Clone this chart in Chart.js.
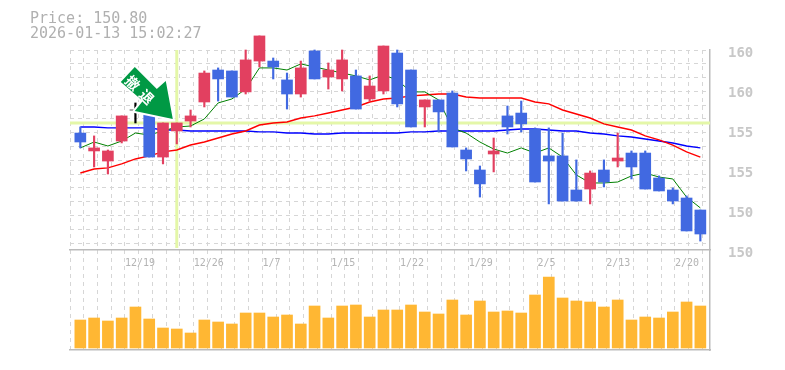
<!DOCTYPE html>
<html>
<head>
<meta charset="utf-8">
<title>Price chart</title>
<script src="https://cdn.jsdelivr.net/npm/chart.js@4"></script>
<style>
  body { margin: 0; background: #fff; }
  #wrap { position: relative; width: 785px; height: 370px; overflow: hidden; }
  #head { position: absolute; left: 30px; top: 11px; font: 15px/15px "DejaVu Sans Mono", monospace; color: #b0b0b0; white-space: pre; }
  canvas { position: absolute; left: 0; top: 0; }
</style>
</head>
<body>
<div id="wrap">
  <canvas id="chart" width="785" height="370"></canvas>
  <div id="head">Price: 150.80
2026-01-13 15:02:27</div>
</div>
<script>
// ----- data -----
const opens = [157.11,155.99,155.36,156.61,158.55,159.18,155.61,157.24,157.86,159.05,161.05,160.99,159.68,161.61,161.61,160.43,159.55,162.24,160.61,160.49,160.68,159.24,159.74,162.11,161.05,158.74,159.18,159.61,156.05,154.80,155.80,158.18,158.36,157.36,155.68,155.68,153.55,153.61,154.80,155.36,155.86,155.86,154.30,153.55,153.05,152.30];
const closes = [156.55,156.18,155.99,158.18,158.55,155.61,157.74,157.74,158.18,160.86,160.49,159.36,161.68,163.18,161.24,159.55,161.18,160.49,161.05,161.68,158.61,160.05,162.55,158.93,157.49,159.18,158.43,156.24,155.49,153.93,155.99,157.49,157.68,154.05,155.36,152.86,152.86,154.61,154.05,155.55,154.99,153.61,153.49,152.86,150.99,150.80];
const highs = [157.49,156.93,156.05,158.18,158.99,159.18,157.74,157.74,158.55,160.99,161.18,160.99,162.30,163.18,161.80,160.86,161.61,162.30,161.49,162.30,161.05,160.68,162.55,162.30,161.05,159.18,159.18,159.74,156.18,155.05,156.80,158.80,159.11,157.43,157.43,157.11,155.43,154.74,155.43,157.11,155.99,155.99,154.43,153.68,153.18,152.30];
const lows = [156.18,154.99,154.55,156.49,157.74,155.61,155.18,156.43,157.49,158.74,159.11,159.36,159.55,161.24,160.49,158.61,159.36,160.49,159.86,159.74,158.61,159.11,159.55,158.74,157.49,157.49,157.18,156.24,154.74,153.11,154.68,157.05,157.18,154.05,152.68,152.86,152.86,152.68,153.74,154.99,154.24,153.61,153.49,152.68,150.99,150.36];
const volumes = [28,30,27,30,41,29,20,19,15,28,26,24,35,35,31,33,24,42,30,42,43,31,38,38,43,36,34,48,33,47,36,37,35,53,71,50,47,46,41,48,28,31,30,36,46,42];
const maShort = [156.18,156.55,156.30,156.61,157.11,156.99,157.24,157.49,157.55,157.99,158.99,159.24,159.86,161.18,161.18,161.05,161.43,161.24,161.05,160.86,160.68,160.43,160.74,160.43,159.68,159.68,159.18,157.43,157.11,156.55,156.11,155.86,156.18,155.86,156.18,155.61,154.49,153.99,153.99,154.05,154.43,154.61,154.36,154.24,153.11,152.43];
const maMid = [154.61,154.86,154.93,155.18,155.49,155.68,155.93,156.05,156.36,156.55,156.80,157.05,157.24,157.61,157.74,157.80,158.05,158.18,158.36,158.55,158.74,159.05,159.24,159.30,159.43,159.49,159.55,159.55,159.36,159.30,159.30,159.30,159.30,159.05,158.93,158.55,158.30,158.05,157.68,157.49,157.30,156.93,156.68,156.36,155.93,155.61];
const maLong = [157.49,157.49,157.43,157.43,157.43,157.43,157.30,157.30,157.24,157.24,157.24,157.24,157.24,157.18,157.18,157.11,157.11,157.05,157.05,157.11,157.11,157.11,157.11,157.11,157.18,157.18,157.24,157.24,157.24,157.24,157.24,157.30,157.36,157.36,157.30,157.24,157.24,157.11,157.05,156.93,156.86,156.74,156.61,156.49,156.30,156.18];
const dateLabels = ['12/19','12/26','1/7','1/15','1/22','1/29','2/5','2/13','2/20'];
const dateSlots = [4,9,14,19,24,29,34,39,44];
const priceTicks = [162.3,159.8,157.3,154.8,152.3,149.8];
const priceLabels = ['160','160','155','155','150','150'];
const crossIndex = 7;
const crossPrice = 157.74;
const signalText = ['撤','退'];

// ----- colours -----
const RED = '#E24060';
const BLUE = '#4169E1';
const ORANGE = '#FFB733';
const CROSS = '#E4F7A8';
const GRID = '#d6d6d6';
const FRAME = '#bbbbbb';
const candleColor = (o, c) => c === o ? '#000000' : (c > o ? RED : BLUE);

const xy = arr => arr.map((v, i) => ({ x: i, y: v }));
const lineSet = (data, color, width, order) => ({
    type: 'line', data: xy(data), borderColor: color, borderWidth: width,
    pointRadius: 0, tension: 0, fill: false, clip: false, order, yAxisID: 'y', xAxisID: 'x'
});

// the green sell arrow, hung from the crosshair point
const arrowPlugin = {
    id: 'arrow',
    afterDatasetsDraw(chart) {
        const ctx = chart.ctx;
        const tipX = chart.scales.x.getPixelForValue(crossIndex) - 4;
        const tipY = chart.scales.y.getPixelForValue(crossPrice) - 4;
        const pts = [[0,0],[-38,-8],[-30,-18],[-52,-37],[-38,-52],[-16,-30],[-7,-38]];
        ctx.save();
        ctx.translate(tipX, tipY);
        ctx.beginPath();
        pts.forEach((p, i) => i ? ctx.lineTo(p[0], p[1]) : ctx.moveTo(p[0], p[1]));
        ctx.closePath();
        ctx.lineJoin = 'round';
        ctx.lineWidth = 4;
        ctx.strokeStyle = '#fff';
        ctx.stroke();
        ctx.fillStyle = '#009944';
        ctx.fill();
        ctx.fillStyle = '#fff';
        ctx.font = 'bold 14px "Noto Sans CJK JP"';
        ctx.textAlign = 'center';
        ctx.textBaseline = 'middle';
        [[-40,-36],[-26,-22]].forEach((p, i) => {
            ctx.save();
            ctx.translate(p[0], p[1]);
            ctx.rotate(Math.PI / 4);
            ctx.fillText(signalText[i], 0, 0);
            ctx.restore();
        });
        ctx.restore();
    }
};

new Chart(document.getElementById('chart'), {
    type: 'bar',
    plugins: [arrowPlugin],
    data: {
        datasets: [
            { data: xy(volumes), backgroundColor: ORANGE, barThickness: 11, grouped: false, order: 10, yAxisID: 'y2', xAxisID: 'x' },
            { type: 'line', data: [{ x: -0.75, y: crossPrice }, { x: 45.7, y: crossPrice }], borderColor: CROSS, borderWidth: 3, pointRadius: 0, order: 9, yAxisID: 'y', xAxisID: 'x' },
            { type: 'line', data: [{ x: crossIndex, y: 162.3 }, { x: crossIndex, y: 149.92 }], borderColor: CROSS, borderWidth: 3, pointRadius: 0, order: 9, yAxisID: 'y', xAxisID: 'x' },
            lineSet(maLong, '#0000ff', 1.4, 8),
            lineSet(maMid, '#ff0000', 1.4, 7),
            lineSet(maShort, '#008000', 1, 6),
            {
                data: highs.map((h, i) => ({ x: i, y: [lows[i], h] })),
                backgroundColor: opens.map((o, i) => candleColor(o, closes[i])),
                barThickness: 1.5, grouped: false, clip: false, order: 3, yAxisID: 'y', xAxisID: 'x'
            },
            {
                data: opens.map((o, i) => ({ x: i, y: [o, closes[i]] })),
                backgroundColor: opens.map((o, i) => candleColor(o, closes[i])),
                barThickness: 11, grouped: false, clip: false, order: 2, yAxisID: 'y', xAxisID: 'x'
            }
        ]
    },
    options: {
        responsive: false,
        animation: false,
        layout: { padding: { top: 50, left: 70, right: 0, bottom: 0 } },
        plugins: { legend: { display: false }, tooltip: { enabled: false }, title: { display: false } },
        scales: {
            // candle positions; only its border shows, as the floor of the volume panel
            x: {
                type: 'linear', position: 'bottom', min: -0.75, max: 45.7, offset: false,
                grid: { display: false, offset: false },
                border: { color: FRAME, width: 1.5 },
                ticks: { display: false },
                afterFit(s) { s.height = 20; }
            },
            // vertical dotted grid and the date labels, sitting on the panel divider
            xg: {
                axis: 'x', type: 'linear', position: { y: 149.8 }, min: 0, max: 46.55, offset: false,
                grid: { color: GRID, lineWidth: 1, drawTicks: false, offset: false },
                border: { color: FRAME, width: 1.5, dash: [4, 4] },
                afterBuildTicks(s) { s.ticks = Array.from({ length: 47 }, (_, k) => ({ value: k })); },
                ticks: {
                    autoSkip: false, maxRotation: 0, align: 'start', padding: 7, color: '#b4b4b4',
                    font: { family: '"DejaVu Sans Mono"', size: 10 },
                    callback(v) { const n = dateSlots.indexOf(v); return n >= 0 ? dateLabels[n] : ''; }
                }
            },
            y: {
                type: 'linear', position: 'right', min: 143.55, max: 162.3,
                grid: { display: false },
                border: { color: FRAME, width: 1.5 },
                afterBuildTicks(s) { s.ticks = priceTicks.map(v => ({ value: v })); },
                afterFit(s) { s.width = 75; },
                ticks: {
                    autoSkip: false, padding: 10, labelOffset: 3, color: '#c8c8c8',
                    font: { family: '"DejaVu Sans Mono"', size: 14, weight: 'bold' },
                    callback(v) { return priceLabels[priceTicks.indexOf(v)]; }
                }
            },
            y2: { type: 'linear', display: false, min: -2, max: 298 },
            // horizontal dotted grid, which stops at the top of the volume panel
            yg: {
                axis: 'y', type: 'linear', position: 'left', reverse: true, min: 0, max: 21.74,
                grid: { color: GRID, lineWidth: 1, drawTicks: false },
                border: { display: false, dash: [4, 4] },
                afterBuildTicks(s) { s.ticks = Array.from({ length: 15 }, (_, k) => ({ value: k })); },
                afterFit(s) { s.width = 0; },
                ticks: { display: false }
            }
        }
    }
});
</script>
</body>
</html>
